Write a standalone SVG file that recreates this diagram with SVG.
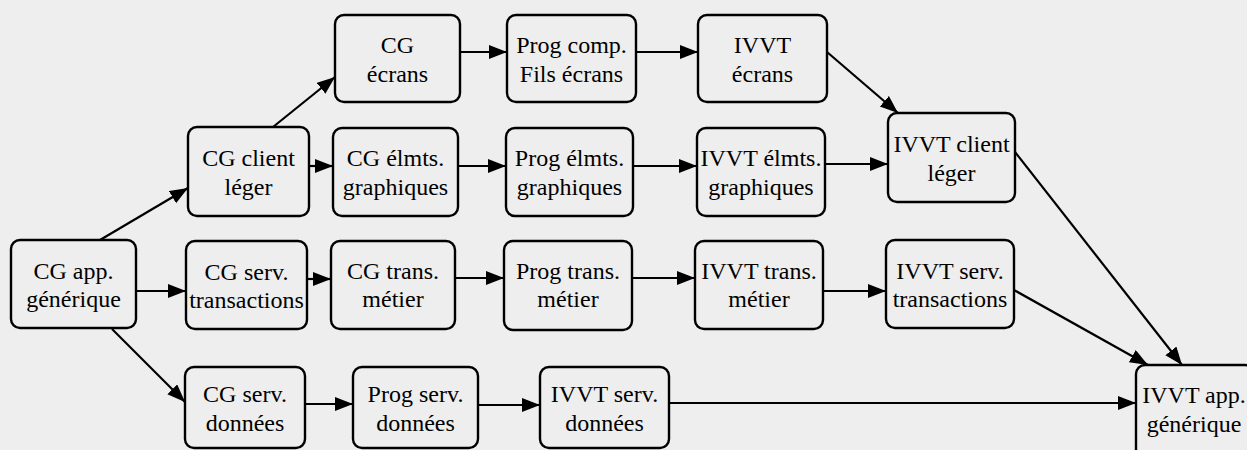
<svg xmlns="http://www.w3.org/2000/svg" width="1247" height="450" viewBox="0 0 1247 450" font-family="Liberation Serif, DejaVu Serif, serif">
<style>
.box{fill:none;stroke:#000;stroke-width:2.4}
.t{font-size:24px;fill:#000;text-anchor:middle}
.c{fill:none;stroke:#000;stroke-width:2.2;marker-end:url(#ah)}
</style>
<defs>
<marker id="ah" markerUnits="userSpaceOnUse" markerWidth="19" markerHeight="15" refX="18" refY="7" orient="auto">
<path d="M0,0 L18,7 L0,14 Z" fill="#000"/>
</marker>
</defs>
<rect x="0" y="0" width="1247" height="450" fill="#eeeeee"/>
<g id="connectors">
<line class="c" x1="100" y1="240" x2="188" y2="188"/>
<line class="c" x1="273" y1="127" x2="335" y2="77"/>
<line class="c" x1="309" y1="166" x2="333" y2="166"/>
<line class="c" x1="460" y1="52" x2="507" y2="52"/>
<line class="c" x1="636" y1="52" x2="698" y2="52"/>
<line class="c" x1="827" y1="52" x2="898" y2="113"/>
<line class="c" x1="458" y1="166" x2="506" y2="166"/>
<line class="c" x1="633" y1="166" x2="697" y2="166"/>
<line class="c" x1="825" y1="164" x2="888" y2="164"/>
<line class="c" x1="1015" y1="152" x2="1182" y2="365"/>
<line class="c" x1="136" y1="291" x2="186" y2="291"/>
<line class="c" x1="307" y1="279" x2="331" y2="279"/>
<line class="c" x1="455" y1="278" x2="504" y2="278"/>
<line class="c" x1="632" y1="278" x2="695" y2="278"/>
<line class="c" x1="823" y1="291" x2="886" y2="291"/>
<line class="c" x1="1014" y1="290" x2="1148" y2="365"/>
<line class="c" x1="112" y1="329" x2="185" y2="402"/>
<line class="c" x1="305" y1="404" x2="353" y2="404"/>
<line class="c" x1="478" y1="405" x2="540" y2="405"/>
<line class="c" x1="669" y1="403" x2="1136" y2="403"/>
</g>
<g id="n_cg_app"><rect class="box" x="11" y="240" width="125" height="88" rx="9"/><text class="t" x="73.5" y="279">CG app.</text><text class="t" x="73.5" y="307">générique</text></g>
<g id="n_cg_client"><rect class="box" x="188" y="127" width="121" height="89" rx="9"/><text class="t" x="248.5" y="166">CG client</text><text class="t" x="248.5" y="195">léger</text></g>
<g id="n_cg_serv_trans"><rect class="box" x="186" y="241" width="121" height="88" rx="9"/><text class="t" x="246.5" y="280">CG serv.</text><text class="t" x="246.5" y="308">transactions</text></g>
<g id="n_cg_serv_donnees"><rect class="box" x="185" y="367" width="120" height="81" rx="9"/><text class="t" x="245" y="402">CG serv.</text><text class="t" x="245" y="431">données</text></g>
<g id="n_cg_ecrans"><rect class="box" x="335" y="15" width="125" height="87" rx="9"/><text class="t" x="397.5" y="53">CG</text><text class="t" x="397.5" y="82">écrans</text></g>
<g id="n_cg_elmts"><rect class="box" x="333" y="128" width="125" height="88" rx="9"/><text class="t" x="395.5" y="166">CG élmts.</text><text class="t" x="395.5" y="195">graphiques</text></g>
<g id="n_cg_trans_metier"><rect class="box" x="331" y="241" width="124" height="88" rx="9"/><text class="t" x="393" y="279">CG trans.</text><text class="t" x="393" y="307">métier</text></g>
<g id="n_prog_serv_donnees"><rect class="box" x="353" y="367" width="125" height="81" rx="9"/><text class="t" x="415.5" y="402">Prog serv.</text><text class="t" x="415.5" y="431">données</text></g>
<g id="n_prog_comp"><rect class="box" x="507" y="15" width="129" height="87" rx="9"/><text class="t" x="571.5" y="53">Prog comp.</text><text class="t" x="571.5" y="82">Fils écrans</text></g>
<g id="n_prog_elmts"><rect class="box" x="506" y="128" width="127" height="88" rx="9"/><text class="t" x="569.5" y="166">Prog élmts.</text><text class="t" x="569.5" y="195">graphiques</text></g>
<g id="n_prog_trans"><rect class="box" x="504" y="241" width="128" height="89" rx="9"/><text class="t" x="568" y="279">Prog trans.</text><text class="t" x="568" y="307">métier</text></g>
<g id="n_ivvt_serv_donnees"><rect class="box" x="540" y="367" width="129" height="81" rx="9"/><text class="t" x="604.5" y="402">IVVT serv.</text><text class="t" x="604.5" y="431">données</text></g>
<g id="n_ivvt_ecrans"><rect class="box" x="698" y="15" width="129" height="87" rx="9"/><text class="t" x="762.5" y="53">IVVT</text><text class="t" x="762.5" y="82">écrans</text></g>
<g id="n_ivvt_elmts"><rect class="box" x="697" y="128" width="128" height="88" rx="9"/><text class="t" x="761" y="166">IVVT élmts.</text><text class="t" x="761" y="195">graphiques</text></g>
<g id="n_ivvt_trans"><rect class="box" x="695" y="241" width="128" height="88" rx="9"/><text class="t" x="759" y="279">IVVT trans.</text><text class="t" x="759" y="307">métier</text></g>
<g id="n_ivvt_client"><rect class="box" x="888" y="113" width="127" height="89" rx="9"/><text class="t" x="951.5" y="152">IVVT client</text><text class="t" x="951.5" y="181">léger</text></g>
<g id="n_ivvt_serv_trans"><rect class="box" x="886" y="240" width="128" height="88" rx="9"/><text class="t" x="950" y="279">IVVT serv.</text><text class="t" x="950" y="307">transactions</text></g>
<g id="n_ivvt_app"><rect class="box" x="1136" y="365" width="118" height="100" rx="9"/><text class="t" x="1194" y="403">IVVT app.</text><text class="t" x="1194" y="432">générique</text></g>
</svg>
